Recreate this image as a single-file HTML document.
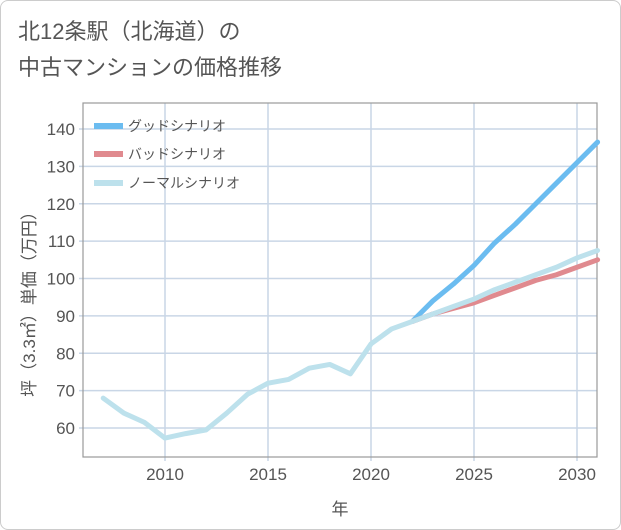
<!DOCTYPE html>
<html><head><meta charset="utf-8"><style>
body{margin:0;background:#fff;font-family:"Liberation Sans","Noto Sans CJK JP",sans-serif;}
.card{position:absolute;left:0;top:0;width:619px;height:528px;border:1px solid #ccc;border-radius:8px;}
.title{position:absolute;left:18px;top:14px;font-size:22px;line-height:36px;color:#555;}
</style></head><body>
<div class="card"></div>
<div class="title">北12条駅（北海道）の<br>中古マンションの価格推移</div>
<svg id="chart" width="621" height="530" style="position:absolute;left:0;top:0"></svg>
<script>
const years=[2007,2008,2009,2010,2011,2012,2013,2014,2015,2016,2017,2018,2019,2020,2021,2022,2023,2024,2025,2026,2027,2028,2029,2030,2031];
const normal=[68,64,61.5,57.3,58.5,59.5,64,69,72,73,76,77,74.5,82.5,86.5,88.5,90.5,92.5,94.5,97,99,101,103,105.5,107.5];
const futureYears=[2022,2023,2024,2025,2026,2027,2028,2029,2030,2031];
const good=[88.5,94,98.5,103.5,109.5,114.5,120,125.5,131,136.5];
const bad=[88.5,90.5,92,93.5,95.5,97.5,99.5,101,103,105];
const yTicks=[60,70,80,90,100,110,120,130,140];
const xTicks=[2010,2015,2020,2025,2030];
const L=83,R=597,T=103,B=457;
const x=v=>165+(v-2010)*20.6;
const y=v=>428-(v-60)*3.7375;
const svg=document.getElementById('chart');
const NS='http://www.w3.org/2000/svg';
function mk(tag,attrs){const e=document.createElementNS(NS,tag);for(const k in attrs)e.setAttribute(k,attrs[k]);svg.appendChild(e);return e;}
yTicks.forEach(t=>{
 const g=mk('line',{x1:L-4,x2:R,y1:y(t),y2:y(t),stroke:'#c9d6e6','stroke-width':1.5});
 
 
 const tx=mk('text',{x:L-8,y:y(t)+6,'text-anchor':'end','font-size':17,fill:'#555'});
 tx.textContent=t;
 
 
});
xTicks.forEach(t=>{
 const g=mk('line',{x1:x(t),x2:x(t),y1:T,y2:B+4,stroke:'#c9d6e6','stroke-width':1.5});
 
 
 const tx=mk('text',{x:x(t),y:B+23,'text-anchor':'middle','font-size':17,fill:'#555'});
 tx.textContent=t;
 
 
});
const fr=mk('rect',{x:L,y:T,width:R-L,height:B-T,fill:'none',stroke:'#999','stroke-width':1.2});


function line(xs,vs,color,name){
 const p=mk('polyline',{points:xs.map((v,i)=>x(v)+','+y(vs[i])).join(' '),fill:'none',stroke:color,'stroke-width':5,'stroke-linejoin':'round','stroke-linecap':'round'});
 
 
}
line(futureYears,good,'#6bbcf0','good-scenario-line');
line(futureYears,bad,'#e08a8f','bad-scenario-line');
line(years,normal,'#bde1ec','normal-scenario-line');
const leg=[['グッドシナリオ','#6bbcf0',126],['バッドシナリオ','#e08a8f',154],['ノーマルシナリオ','#bde1ec',183]];
leg.forEach(l=>{
 const s=mk('line',{x1:94,x2:123,y1:l[2],y2:l[2],stroke:l[1],'stroke-width':6});
 
 
 const t=mk('text',{x:128,y:l[2]+5,'font-size':14,fill:'#555'});
 t.textContent=l[0];
 
 
});
const xt=mk('text',{x:340,y:515,'text-anchor':'middle','font-size':17,fill:'#555'});
xt.textContent='年';


const yt=mk('text',{x:0,y:0,'text-anchor':'middle','font-size':17,fill:'#555',transform:'translate(35,300) rotate(-90)'});
yt.textContent='坪（3.3㎡）単価（万円）';


</script>
</body></html>
